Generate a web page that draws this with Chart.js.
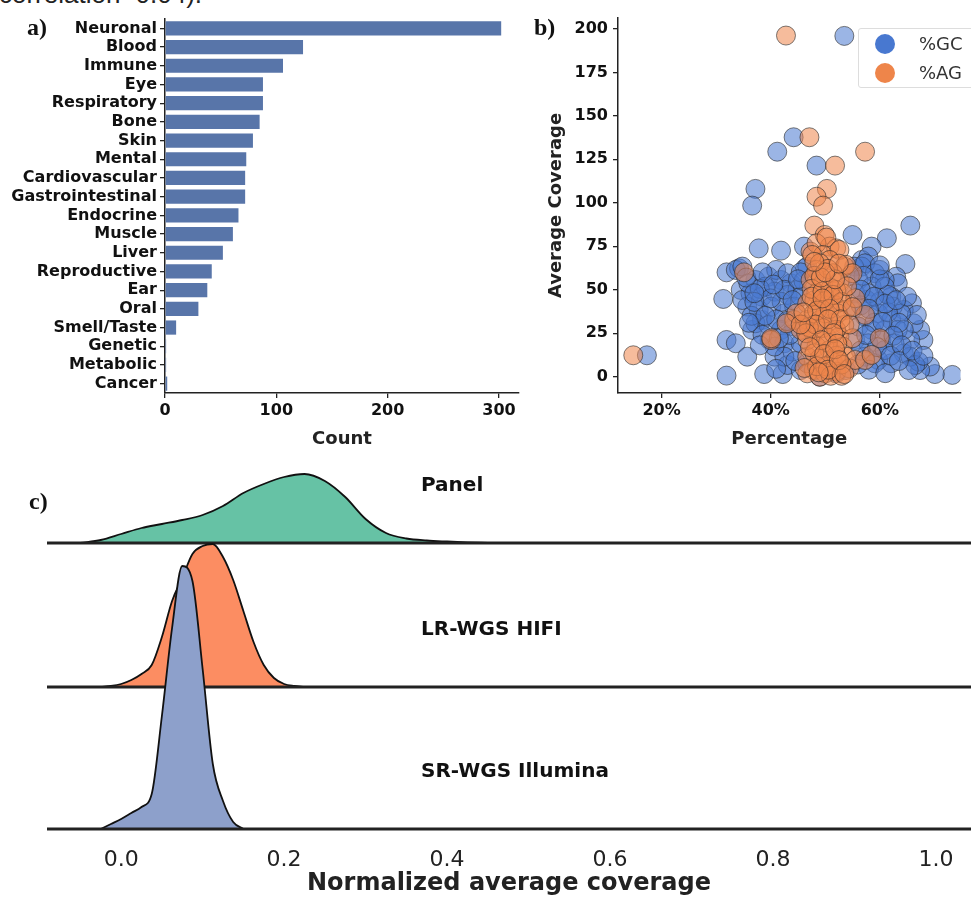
<!DOCTYPE html>
<html lang="en">
<head>
    <meta charset="UTF-8">
    <title>Coverage figure</title>
    <style>
        body {
            margin: 0;
            width: 971px;
            height: 898px;
            overflow: hidden;
            background: #fff;
            position: relative;
            font-family: "DejaVu Sans", sans-serif;
        }
        canvas { position: absolute; }
        #chartA { left: 0; top: 0; }
        #chartB { left: 530px; top: 0; }
        #chartC { left: 0; top: 450px; }
        .letter {
            position: absolute;
            font-family: "Liberation Serif", serif;
            font-weight: bold;
            font-size: 24px;
            line-height: 1;
            color: #111;
        }
        .caption {
            position: absolute;
            left: -1px;
            top: -19px;
            font-family: "Liberation Sans", sans-serif;
            font-size: 26px;
            line-height: 1;
            color: #222;
            white-space: nowrap;
        }
        .legend {
            position: absolute;
            left: 858px;
            top: 28px;
            width: 130px;
            height: 58px;
            border: 1px solid #ddd;
            border-radius: 3px;
            background: rgba(255,255,255,0.85);
            font-size: 18px;
            color: #333;
        }
        .legend div { position: absolute; left: 0; height: 24px; line-height: 24px; }
        .legend span.dot {
            position: absolute;
            left: 16px;
            top: 2px;
            width: 20px;
            height: 20px;
            border-radius: 50%;
        }
        .legend span.lab { position: absolute; left: 60px; }
    </style>
    <script src="https://cdn.jsdelivr.net/npm/chart.js"></script>
</head>
<body>
    <div class="caption">correlation=0.04).</div>
    <canvas id="chartA" width="530" height="450"></canvas>
    <canvas id="chartB" width="441" height="450"></canvas>
    <canvas id="chartC" width="971" height="448"></canvas>
    <div class="letter" style="left:27px; top:15px;">a)</div>
    <div class="letter" style="left:534px; top:15px;">b)</div>
    <div class="letter" style="left:29px; top:489px;">c)</div>
    <div class="legend">
        <div style="top:3px; width:130px;"><span class="dot" style="background:#4878d0;"></span><span class="lab">%GC</span></div>
        <div style="top:32px; width:130px;"><span class="dot" style="background:#ee854a;"></span><span class="lab">%AG</span></div>
    </div>

    <script>
        // a) disease categories
        var categories = ['Neuronal', 'Blood', 'Immune', 'Eye', 'Respiratory', 'Bone', 'Skin', 'Mental',
            'Cardiovascular', 'Gastrointestinal', 'Endocrine', 'Muscle', 'Liver', 'Reproductive', 'Ear',
            'Oral', 'Smell/Taste', 'Genetic', 'Metabolic', 'Cancer'];
        var counts = [302, 124, 106, 88, 88, 85, 79, 73, 72, 72, 66, 61, 52, 42, 38, 30, 10, 1, 1, 2];
        var countTicks = [0, 100, 200, 300];

        // b) percentage vs average coverage
        var gcPct = [53.5, 44.2, 41.2, 48.4, 37.2, 36.6, 65.6, 55.0, 61.3, 37.8, 41.9, 58.5, 46.1, 64.7, 56.7,
            31.9, 34.2, 31.3, 31.9, 33.6, 35.7, 31.9, 38.8, 42.2, 73.3, 70.1, 17.3, 68.0, 65.9, 63.0,
            63.3, 46.3, 57.9, 60.0, 60.9, 62.1, 64.4, 67.4, 65.6, 64.4, 62.1, 59.7, 69.2, 67.4, 67.1,
            66.2, 66.8, 40.7, 43.1, 45.5, 36.6, 38.4, 34.5, 33.6, 46.7, 56.7,
            34.8, 37.2, 39.6, 41.9, 43.7, 36.3, 38.4, 40.7, 43.1, 44.9, 35.7, 37.8, 40.1, 42.5, 44.3,
            37.2, 39.6, 41.9, 44.3, 39.8, 42.5, 44.0, 42.5, 40.7, 45.5, 39.0, 41.0, 43.1, 45.5, 34.8, 35.9,
            38.0, 42.0, 36.5, 41.0, 43.5, 38.5, 46.0, 46.0, 40.0, 37.0,
            55.3, 57.3, 59.1, 56.1, 58.5, 60.9, 55.5, 57.6, 60.0, 62.4, 55.0, 57.3, 59.7, 62.1, 63.9,
            56.1, 58.5, 60.9, 63.3, 55.5, 57.9, 60.3, 62.7, 57.3, 59.1, 60.9, 65.6, 66.5, 65.3, 64.4, 65.0,
            58.0, 61.5, 56.5, 59.0, 61.5, 63.5, 56.5, 59.5, 62.0, 57.0, 60.0,
            49.0, 52.0, 53.8, 46.7, 54.5, 45.5,
            35.5, 38.5, 42.5, 44.0, 39.0, 36.0, 43.0, 41.5, 38.0, 44.5, 41.0, 37.0, 45.0, 40.5,
            56.5, 59.0, 61.0, 58.0, 63.0, 57.5, 60.5, 62.5, 64.0, 58.0, 61.0, 56.0, 63.5, 66.0, 68.0, 60.0];
        var gcCov = [196, 137.7, 129.4, 121.4, 108, 98.4, 86.9, 81.5, 79.6, 73.8, 72.5, 74.8, 74.8, 64.8, 67.1,
            60.0, 62.3, 44.7, 21.1, 19.2, 11.5, 0.6, 1.5, 1.5, 1.0, 1.5, 12.3, 21.1, 42.2, 57.5,
            53.7, 62.3, 69.1, 61.4, 55.6, 46.0, 38.4, 26.9, 21.1, 13.4, 7.7, 9.6, 5.8, 3.8, 8.6,
            30.7, 35.5, 11.5, 6.7, 3.8, 26.9, 32.6, 49.9, 61.4, 63.3, 63.3,
            63.3, 55.6, 57.5, 55.6, 53.7, 47.9, 46.0, 48.9, 47.0, 49.9, 40.3, 38.4, 40.3, 36.4, 40.3,
            30.7, 29.7, 26.9, 28.8, 21.1, 19.2, 14.4, 11.5, 17.3, 19.2, 51.8, 61.4, 59.5, 46.0, 44.1, 53.7,
            50.5, 43.0, 35.0, 33.0, 24.0, 24.0, 30.0, 55.0, 45.0, 43.0,
            63.3, 65.2, 59.5, 55.6, 51.8, 51.8, 47.9, 44.1, 43.2, 40.3, 38.4, 34.5, 36.4, 32.6, 36.4,
            28.8, 26.9, 26.9, 26.9, 21.1, 19.2, 21.1, 19.2, 11.5, 7.7, 15.3, 11.5, 6.7, 3.8, 26.9, 46.0,
            48.0, 47.0, 41.0, 31.0, 37.0, 31.0, 15.0, 17.0, 12.0, 58.0, 56.0,
            0, 1.9, 3.8, 7.7, 58, 60,
            57, 60, 50, 44, 35, 31, 32, 22, 18, 9, 4.5, 48, 56, 53,
            50, 46, 42, 39, 44, 24, 31.5, 23.5, 18, 4, 2, 7, 9, 15, 12, 64];
        var agPct = [42.8, 47.1, 57.3, 51.8, 50.3, 48.4, 49.6, 48.0, 49.9, 47.3, 50.8, 35.1, 14.8, 40.1, 48.4,
            52.0, 53.5, 50.2, 49.6, 52.6, 47.6, 50.8, 53.8, 48.4, 51.4, 47.3, 49.6, 52.6, 48.4, 50.8,
            53.2, 46.7, 49.0, 51.7, 53.8, 44.3, 46.7, 49.0, 51.4, 53.5, 45.5, 47.9, 50.2, 52.6, 48.4,
            50.8, 53.2, 46.7, 49.0, 51.4, 53.8, 47.9, 50.0, 52.0, 54.4, 46.7, 49.0, 55.5, 57.3, 46.7,
            44.7, 42.9, 49.0, 52.0, 50.0, 52.3, 47.9,
            40.1, 60.0, 57.3, 55.5, 58.5, 55.0, 55.0,
            48.0, 50.5, 51.0, 48.0, 50.0, 53.0, 49.5, 52.0, 47.0, 50.5, 48.0, 52.0, 50.0, 48.5, 53.0,
            51.0, 53.0, 47.5, 54.0,
            47.5, 49.5, 51.5, 48.5, 50.8, 52.8, 48.2, 50.5, 46.5, 51.5, 49.3, 47.2, 52.2, 49.8, 51.8,
            46.2, 50.5, 52.5, 48.8, 53.5, 49.2, 51.8, 50.0, 52.5, 48.0, 49.5, 45.5, 54.5, 55.0, 46.0];
        var agCov = [196.2, 137.7, 129.4, 121.4, 108, 103.5, 98.4, 86.9, 81.5, 71.9, 74.8, 60.0, 12.3, 21.1, 76.7,
            73.8, 63.3, 80.0, 70.0, 72.9, 70.0, 67.1, 64.3, 61.4, 59.5, 55.6, 53.7, 54.7, 47.9, 46.0,
            47.9, 42.2, 40.3, 41.2, 38.4, 32.6, 32.6, 32.6, 30.7, 29.7, 26.9, 24.9, 23.0, 23.0, 17.3,
            15.3, 17.3, 11.5, 10.5, 8.6, 11.5, 3.8, 1.9, 2.9, 4.8, 1.9, 0, 9.6, 9.6, 21.1,
            36.4, 30.7, 65.2, 49.9, 36.4, 36.4, 36.4,
            22.1, 22.1, 35.5, 45.1, 12.5, 22.1, 59.5,
            58.0, 62.0, 51.0, 44.0, 43.5, 43.0, 28.0, 27.0, 28.5, 19.5, 13.5, 12.0, 6.0, 6.0, 7.0,
            0.5, 0.5, 50.5, 52.0,
            46, 49, 47, 38, 39, 33, 30, 33, 25, 25, 21, 17, 19, 13, 15.8,
            5, 4, 9.5, 2.5, 1.5, 57, 56, 60, 65, 66, 45, 30, 30, 40, 37];
        var pctTicks = [20, 40, 60];
        var covTicks = [0, 25, 50, 75, 100, 125, 150, 175, 200];

        // c) ridge densities of normalized average coverage
        var panelX = [-0.05, -0.025, 0.0, 0.025, 0.05, 0.075, 0.1, 0.125, 0.15, 0.175, 0.2, 0.225, 0.25,
            0.275, 0.3, 0.325, 0.35, 0.375, 0.4, 0.425, 0.45];
        var panelDensity = [0, 3, 9, 15, 19, 23, 28, 37, 50, 59, 66, 69, 62, 46, 24, 10, 4.5, 2.5, 1.5, 0.7, 0];
        var hifiX = [-0.025, -0.0125, 0.0, 0.0125, 0.025, 0.0375, 0.05, 0.0625, 0.075, 0.0875, 0.1, 0.1125,
            0.125, 0.1375, 0.15, 0.1625, 0.175, 0.1875, 0.2, 0.2125, 0.225];
        var hifiDensity = [0, 1, 3, 7, 13, 22, 50, 86, 109, 133, 141, 143, 130, 107, 76, 45, 22, 9, 3, 1, 0];
        var illuminaX = [-0.025, -0.0125, 0.0, 0.0125, 0.025, 0.0375, 0.05, 0.0625, 0.075, 0.0875, 0.1,
            0.1125, 0.125, 0.1375, 0.15];
        var illuminaDensity = [0, 5, 10, 16, 22, 35, 113, 201, 263, 248, 160, 65, 28, 7, 0];
        var covXTicks = [0, 0.2, 0.4, 0.6, 0.8, 1.0];
        var rowNames = ['Panel', 'LR-WGS HIFI', 'SR-WGS Illumina'];

        var fam = '"DejaVu Sans", sans-serif';
        var axisGrid = { drawOnChartArea: false, tickLength: 5, color: '#222', lineWidth: 1.3, offset: false };
        var axisBorder = { color: '#222', width: 1.5 };

        function pairs(xs, ys) {
            return xs.map(function (x, i) { return { x: x, y: ys[i] }; });
        }

        // ---- a) bar chart
        new Chart(document.getElementById('chartA'), {
            type: 'bar',
            data: {
                labels: categories,
                datasets: [{
                    data: counts,
                    backgroundColor: '#5875a9',
                    barPercentage: 0.76,
                    categoryPercentage: 1
                }]
            },
            options: {
                indexAxis: 'y',
                responsive: false,
                animation: false,
                layout: { padding: { top: 19, right: 11, left: 0, bottom: 0 } },
                plugins: { legend: { display: false }, tooltip: { enabled: false } },
                scales: {
                    x: {
                        min: 0,
                        max: 318,
                        afterFit: function (s) { s.height = 57; },
                        afterBuildTicks: function (s) { s.ticks = countTicks.map(function (v) { return { value: v }; }); },
                        grid: axisGrid,
                        border: axisBorder,
                        ticks: { font: { family: fam, size: 16, weight: 'bold' }, color: '#111', padding: 3 },
                        title: { display: true, text: 'Count', color: '#222',
                            font: { family: fam, size: 18, weight: 'bold' }, padding: { top: 4, bottom: 0 } }
                    },
                    y: {
                        afterFit: function (s) { s.width = 165; },
                        grid: axisGrid,
                        border: axisBorder,
                        ticks: { font: { family: fam, size: 16, weight: 'bold' }, color: '#111', padding: 3, autoSkip: false }
                    }
                }
            }
        });

        // ---- b) scatter
        new Chart(document.getElementById('chartB'), {
            type: 'scatter',
            data: {
                datasets: [{
                    label: '%GC',
                    data: pairs(gcPct, gcCov),
                    backgroundColor: 'rgba(72,120,208,0.55)',
                    borderColor: 'rgba(40,40,40,0.6)',
                    borderWidth: 1,
                    pointRadius: 9.5,
                    order: 2
                }, {
                    label: '%AG',
                    data: pairs(agPct, agCov),
                    backgroundColor: 'rgba(238,133,74,0.55)',
                    borderColor: 'rgba(40,40,40,0.6)',
                    borderWidth: 1,
                    pointRadius: 9.5,
                    order: 1
                }]
            },
            options: {
                responsive: false,
                animation: false,
                layout: { padding: { top: 18, right: 0, left: 0, bottom: 0 } },
                plugins: { legend: { display: false }, tooltip: { enabled: false } },
                scales: {
                    x: {
                        type: 'linear',
                        min: 12,
                        max: 74.8,
                        afterFit: function (s) { s.height = 57; },
                        afterBuildTicks: function (s) { s.ticks = pctTicks.map(function (v) { return { value: v }; }); },
                        grid: axisGrid,
                        border: axisBorder,
                        ticks: { font: { family: fam, size: 16, weight: 'bold' }, color: '#111', padding: 3,
                            callback: function (v) { return v + '%'; } },
                        title: { display: true, text: 'Percentage', color: '#222',
                            font: { family: fam, size: 18, weight: 'bold' }, padding: { top: 4, bottom: 0 } }
                    },
                    y: {
                        min: -9.4,
                        max: 206.3,
                        afterFit: function (s) { s.width = 88; },
                        afterBuildTicks: function (s) { s.ticks = covTicks.map(function (v) { return { value: v }; }); },
                        grid: axisGrid,
                        border: axisBorder,
                        ticks: { font: { family: fam, size: 16, weight: 'bold' }, color: '#111', padding: 5 },
                        title: { display: true, text: 'Average Coverage', color: '#222',
                            font: { family: fam, size: 18, weight: 'bold' }, padding: { top: 16, bottom: 0 } }
                    }
                }
            }
        });

        // ---- c) ridge plot
        var rowOffset = [286, 142, 0];
        var rowColors = ['#66c2a5', '#fc8d62', '#8da0cb'];
        var rowData = [pairs(panelX, panelDensity), pairs(hifiX, hifiDensity), pairs(illuminaX, illuminaDensity)];
        var ridgeSets = [];
        rowData.forEach(function (pts, i) {
            ridgeSets.push({
                data: pts.map(function (p) { return { x: p.x, y: p.y + rowOffset[i] }; }),
                borderColor: '#111',
                borderWidth: 1.8,
                backgroundColor: rowColors[i],
                fill: { value: rowOffset[i] },
                pointRadius: 0,
                cubicInterpolationMode: 'monotone',
                order: 6 - i * 2
            });
            ridgeSets.push({
                data: [{ x: -0.2, y: rowOffset[i] }, { x: 1.2, y: rowOffset[i] }],
                borderColor: '#222',
                borderWidth: 3,
                pointRadius: 0,
                fill: false,
                order: 5 - i * 2
            });
        });

        var rowLabels = {
            id: 'rowLabels',
            afterDatasetsDraw: function (chart) {
                var ctx = chart.ctx, xs = chart.scales.x, ys = chart.scales.y;
                ctx.save();
                ctx.font = 'bold 20px ' + fam;
                ctx.fillStyle = '#111';
                ctx.textAlign = 'left';
                ctx.textBaseline = 'middle';
                rowNames.forEach(function (name, i) {
                    ctx.fillText(name, xs.getPixelForValue(0.368), ys.getPixelForValue(rowOffset[i] + 57));
                });
                ctx.restore();
            }
        };

        new Chart(document.getElementById('chartC'), {
            type: 'line',
            data: { datasets: ridgeSets },
            plugins: [rowLabels],
            options: {
                responsive: false,
                animation: false,
                layout: { padding: { top: 15, right: 0, left: 47, bottom: 0 } },
                plugins: { legend: { display: false }, tooltip: { enabled: false } },
                scales: {
                    x: {
                        type: 'linear',
                        min: -0.091,
                        max: 1.043,
                        afterFit: function (s) { s.height = 66; },
                        afterBuildTicks: function (s) { s.ticks = covXTicks.map(function (v) { return { value: v }; }); },
                        grid: { display: false },
                        border: { display: false },
                        ticks: { font: { family: fam, size: 22 }, color: '#222', padding: 7,
                            callback: function (v) { return v.toFixed(1); } },
                        title: { display: true, text: 'Normalized average coverage', color: '#222',
                            font: { family: fam, size: 24, weight: 'bold' }, padding: { top: -6, bottom: 0 } }
                    },
                    y: {
                        display: false,
                        min: -3,
                        max: 364
                    }
                }
            }
        });
    </script>
</body>
</html>
